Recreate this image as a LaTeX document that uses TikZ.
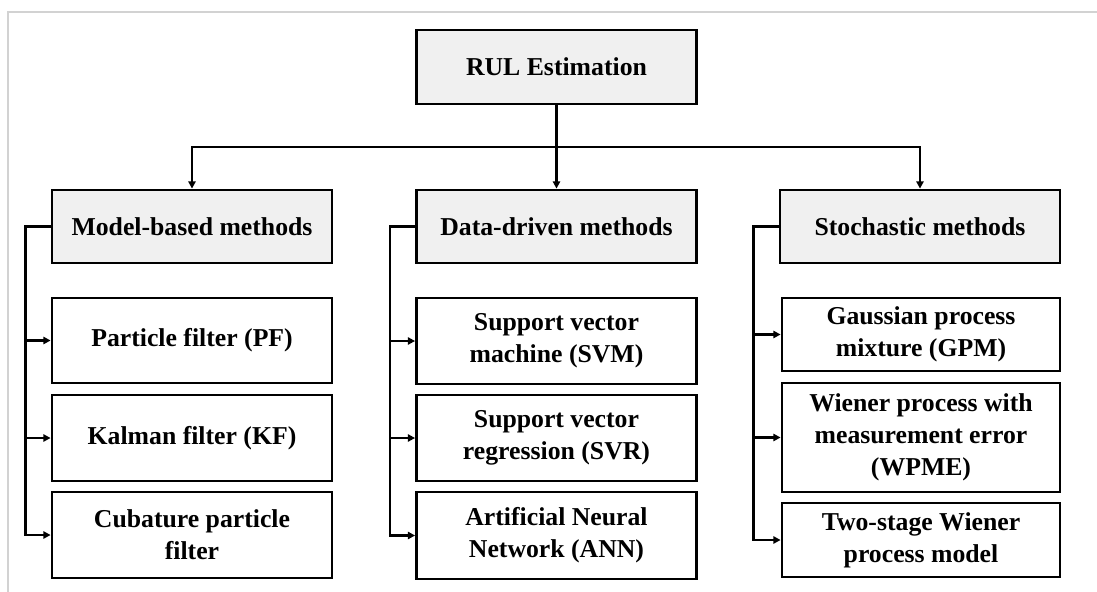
\documentclass[tikz,border=0pt]{standalone}
\usepackage{fontspec}
\setmainfont{Liberation Serif}
\usetikzlibrary{arrows.meta,positioning}
\definecolor{headfill}{HTML}{F0F0F0}
\definecolor{framegray}{HTML}{D2D2D2}
\tikzset{
  box/.style={draw=black, line width=2.1pt, fill=white, align=center,
    inner sep=0pt, font=\fontsize{19.3}{24}\selectfont\bfseries,
    minimum width=210pt},
  headbox/.style={box, fill=headfill},
  conn/.style={draw=black, line width=1.8pt},
  arr/.style={conn, -{Triangle[length=5.5pt,width=5.5pt]}}
}
\begin{document}
\begin{tikzpicture}[x=0.75pt,y=-0.75pt]
  \useasboundingbox (0,0) rectangle (1097,592);
  % light frame along the top and left
  \draw[framegray, line width=1.2pt] (8,592) -- (8,12) -- (1097,12);

  % root and category headers
  \node[headbox, minimum height=55.5pt] (rul) at (556.5,67) {RUL Estimation};
  \node[headbox, minimum height=54.75pt] (mb) at (192,226.5) {Model-based methods};
  \node[headbox, minimum height=54.75pt] (dd) at (556.5,226.5) {Data-driven methods};
  \node[headbox, minimum height=54.75pt] (st) at (920,226.5) {Stochastic methods};

  % model-based methods
  \node[box, minimum height=63.75pt] (pf) at (192,340.5) {Particle filter (PF)};
  \node[box, minimum height=64.5pt] (kf) at (192,438) {Kalman filter (KF)};
  \node[box, minimum height=64.5pt] (cpf) at (192,535) {Cubature particle\\filter};

  % data-driven methods
  \node[box, minimum height=64.5pt] (svm) at (556.5,341) {Support vector\\machine (SVM)};
  \node[box, minimum height=64.5pt] (svr) at (556.5,438) {Support vector\\regression (SVR)};
  \node[box, minimum height=65.25pt] (ann) at (556.5,535.5) {Artificial Neural\\Network (ANN)};

  % stochastic methods
  \node[box, minimum width=208.5pt, minimum height=54.75pt] (gpm) at (921,334.5) {Gaussian process\\mixture (GPM)};
  \node[box, minimum width=208.5pt, minimum height=81.75pt] (wpme) at (921,437.5) {Wiener process with\\measurement error\\(WPME)};
  \node[box, minimum width=208.5pt, minimum height=55.5pt] (tsw) at (921,540) {Two-stage Wiener\\process model};

  % root to categories
  \coordinate (split) at (556.5,147);
  \draw[arr] (rul.south) -- (dd.north);
  \draw[arr] (split) -| (mb.north);
  \draw[arr] (split) -| (st.north);

  % category buses: one trunk down to the last member, branches to the others
  \coordinate (mbbus) at ([xshift=-18.75pt]mb.west);
  \coordinate (ddbus) at ([xshift=-18.75pt]dd.west);
  \coordinate (stbus) at ([xshift=-18.75pt]st.west);

  \draw[arr] (mb.west) -- (mbbus) |- (cpf.west);
  \draw[arr] (mbbus |- pf.west) -- (pf.west);
  \draw[arr] (mbbus |- kf.west) -- (kf.west);

  \draw[arr] (dd.west) -- (ddbus) |- (ann.west);
  \draw[arr] (ddbus |- svm.west) -- (svm.west);
  \draw[arr] (ddbus |- svr.west) -- (svr.west);

  \draw[arr] (st.west) -- (stbus) |- (tsw.west);
  \draw[arr] (stbus |- gpm.west) -- (gpm.west);
  \draw[arr] (stbus |- wpme.west) -- (wpme.west);
\end{tikzpicture}
\end{document}
